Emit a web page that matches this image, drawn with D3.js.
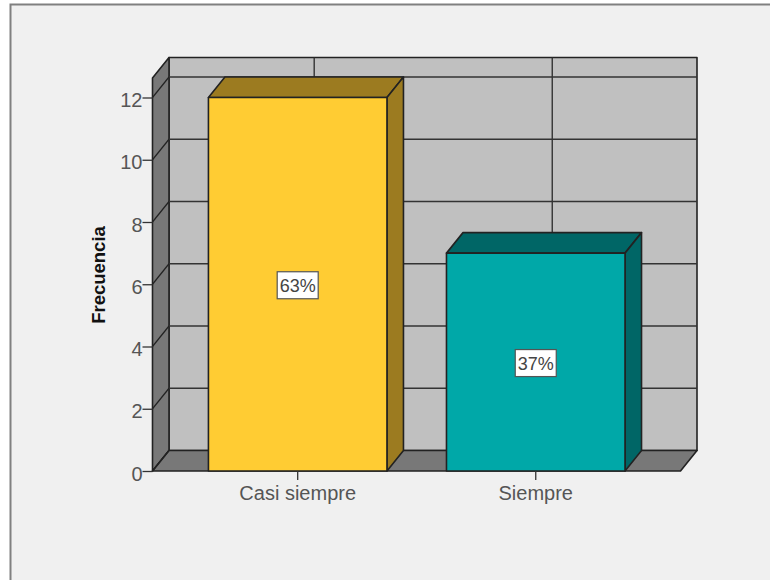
<!DOCTYPE html>
<html><head><meta charset="utf-8">
<script src="https://cdn.jsdelivr.net/npm/d3@7"></script>
<style>html,body{margin:0;padding:0;background:#fff}svg{display:block}text{font-family:"Liberation Sans",Arial,sans-serif}</style>
</head><body><div id="c"></div>
<script>
const categories = ["Casi siempre", "Siempre"];
const frequencies = [12, 7];
const percentLabels = ["63%", "37%"];
const yTicks = [0, 2, 4, 6, 8, 10, 12];
const yTitle = "Frecuencia";
const frontColors = ["#ffcc33", "#00a8a8"];
const topColors = ["#9c7b20", "#006666"];

const W = 770, H = 580, dx = 16.5, dy = -20.5;
const svg = d3.select("#c").append("svg").attr("width", W).attr("height", H);
svg.append("rect").attr("width", W).attr("height", H).attr("fill", "#fff");
svg.append("rect").attr("x", 10.5).attr("y", 4.5).attr("width", W).attr("height", H)
  .attr("fill", "#f0f0f0").attr("stroke", "#808080").attr("stroke-width", 2);

const y = d3.scaleLinear().domain([0, 12]).range([471, 97.5]);
const x = d3.scaleBand().domain(categories).range([152.5, 680.5]).paddingInner(0.25).paddingOuter(0.234).align(0.502);
const ink = "#222";
const topV = y.invert(78);
const poly = (pts, fill, sw = 1.6) => svg.append("polygon").attr("points", pts.map(p => p.join(",")).join(" "))
  .attr("fill", fill).attr("stroke", ink).attr("stroke-width", sw).attr("stroke-linejoin", "round");
const x0 = x.range()[0], x1 = x.range()[1], yB = y(0), yT = y(topV);

// back wall, side wall, floor
poly([[x0+dx,yB+dy],[x1+dx,yB+dy],[x1+dx,yT+dy],[x0+dx,yT+dy]], "#c0c0c0");
poly([[x0,yB],[x0+dx,yB+dy],[x0+dx,yT+dy],[x0,yT]], "#787878");
poly([[x0,yB],[x1,yB],[x1+dx,yB+dy],[x0+dx,yB+dy]], "#787878");

// gridlines on walls
yTicks.forEach(t => {
  if (t > 0) svg.append("line").attr("x1", x0+dx).attr("x2", x1+dx).attr("y1", y(t)+dy).attr("y2", y(t)+dy).attr("stroke", "#333").attr("stroke-width", 1.4);
  svg.append("line").attr("x1", x0).attr("x2", x0+dx).attr("y1", y(t)).attr("y2", y(t)+dy).attr("stroke", "#222").attr("stroke-width", 1.2);
});
categories.forEach(c => {
  const cx = x(c) + x.bandwidth()/2 + dx;
  svg.append("line").attr("x1", cx).attr("x2", cx).attr("y1", yT+dy).attr("y2", yB+dy).attr("stroke", "#333").attr("stroke-width", 1.4);
});

// bars
categories.forEach((c, i) => {
  const l = x(c), r = l + x.bandwidth(), t = y(frequencies[i]);
  poly([[l,t],[l+dx,t+dy],[r+dx,t+dy],[r,t]], topColors[i]);
  poly([[r,t],[r+dx,t+dy],[r+dx,yB+dy],[r,yB]], topColors[i]);
  poly([[l,t],[r,t],[r,yB],[l,yB]], frontColors[i]);
  const cx = (l+r)/2, cy = y(frequencies[i]/2) + 1;
  const g = svg.append("g").attr("transform", `translate(${cx},${cy})`);
  g.append("rect").attr("x", -20.5).attr("y", -13.5).attr("width", 41).attr("height", 27).attr("fill", "#fff").attr("stroke", "#555").attr("stroke-width", 1.2);
  g.append("text").attr("text-anchor", "middle").attr("y", 6.5).attr("font-size", 18).attr("fill", "#444").attr("textLength", 36).attr("lengthAdjust","spacingAndGlyphs").text(percentLabels[i]);
});

// axes
const axY = d3.axisLeft(y).tickValues(yTicks).tickSize(10).tickPadding(0).tickFormat(d3.format("d"));
const gy = svg.append("g").attr("transform", `translate(${x0},0)`).call(axY);
gy.select(".domain").remove();
gy.selectAll("line").attr("stroke", "#333").attr("stroke-width", 1.3);
gy.selectAll("text").attr("font-size", 20).attr("fill", "#555").attr("dy", "0.46em");

const axX = d3.axisBottom(x).tickSize(9).tickPadding(6);
const gx = svg.append("g").attr("transform", `translate(0,${yB})`).call(axX);
gx.select(".domain").remove();
gx.selectAll("line").attr("stroke", "#333").attr("stroke-width", 1.3);
gx.selectAll("text").attr("font-size", 20).attr("fill", "#555");

svg.append("text").attr("transform", "translate(105,275) rotate(-90)").attr("text-anchor", "middle")
  .attr("font-size", 18.5).attr("font-weight", "bold").attr("fill", "#111").text(yTitle);
</script></body></html>
